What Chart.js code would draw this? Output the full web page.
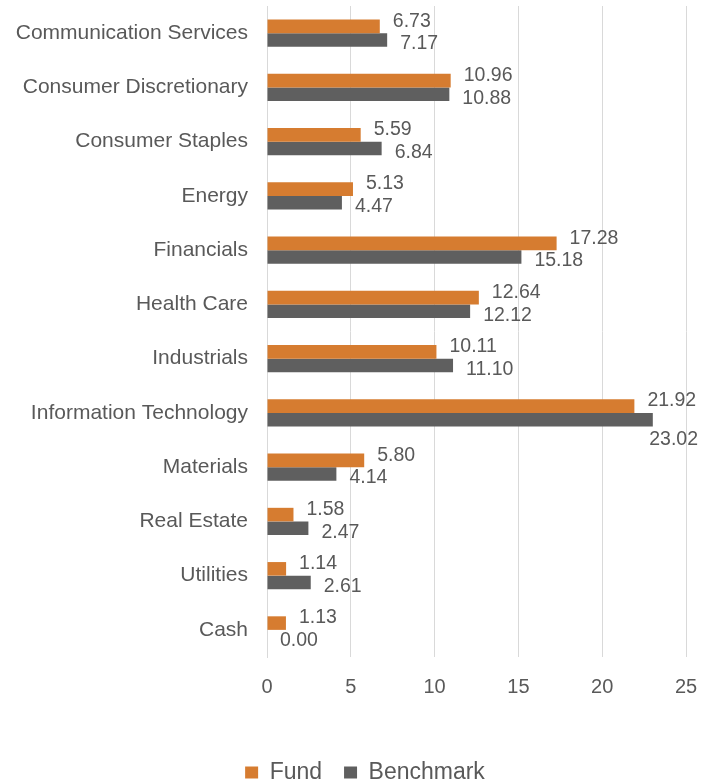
<!DOCTYPE html>
<html>
<head>
<meta charset="utf-8">
<script src="https://cdn.jsdelivr.net/npm/chart.js@4"></script>
<style>
  html, body { margin: 0; padding: 0; background: #fff; }
  #wrap { width: 710px; height: 784px; position: relative; }
</style>
</head>
<body>
<div id="wrap"><canvas id="sectorChart"></canvas></div>
<script>
// Sector weights (%)
const sectors = [
    'Communication Services', 'Consumer Discretionary', 'Consumer Staples', 'Energy',
    'Financials', 'Health Care', 'Industrials', 'Information Technology',
    'Materials', 'Real Estate', 'Utilities', 'Cash'
];
const fundWeights = [6.73, 10.96, 5.59, 5.13, 17.28, 12.64, 10.11, 21.92, 5.80, 1.58, 1.14, 1.13];
const benchmarkWeights = [7.17, 10.88, 6.84, 4.47, 15.18, 12.12, 11.10, 23.02, 4.14, 2.47, 2.61, 0.00];
const xTicks = [0, 5, 10, 15, 20, 25];

const textColor = '#595959';
const fontFamily = "'Liberation Sans', Arial, sans-serif";

// draws the value next to each bar end (pushed below the bar when it would run off the canvas)
const valueLabels = {
    id: 'valueLabels',
    afterDatasetsDraw(chart) {
        const ctx = chart.ctx;
        ctx.save();
        ctx.font = '19.5px ' + fontFamily;
        ctx.fillStyle = textColor;
        ctx.textAlign = 'left';
        ctx.textBaseline = 'middle';
        chart.data.datasets.forEach((ds, i) => {
            const meta = chart.getDatasetMeta(i);
            meta.data.forEach((bar, j) => {
                const txt = ds.data[j].toFixed(2);
                const w = ctx.measureText(txt).width;
                let x = bar.x + 13;
                let dy = i === 0 ? -5 : 4;
                const maxX = chart.width - w - 12;
                if (x > maxX) {
                    x = maxX;
                    dy += 16;
                }
                ctx.fillText(txt, x, bar.y + dy);
            });
        });
        ctx.restore();
    }
};

// nudge the legend a little right, like the original layout
const legendShift = {
    id: 'legendShift',
    beforeDraw(chart) {
        chart.legend.left = 44;
    }
};

document.addEventListener('DOMContentLoaded', function() {
    const ctx = document.getElementById('sectorChart').getContext('2d');
    Chart.defaults.font.family = fontFamily;
    Chart.defaults.color = textColor;

    new Chart(ctx, {
        type: 'bar',
        data: {
            labels: sectors,
            datasets: [
                {
                    label: 'Fund',
                    data: fundWeights,
                    backgroundColor: '#D67C30',
                    categoryPercentage: 0.5,
                    barPercentage: 1.0
                },
                {
                    label: 'Benchmark',
                    data: benchmarkWeights,
                    backgroundColor: '#5F5F5F',
                    categoryPercentage: 0.5,
                    barPercentage: 1.0
                }
            ]
        },
        options: {
            indexAxis: 'y',
            responsive: true,
            maintainAspectRatio: false,
            animation: false,
            layout: {
                padding: { top: 6, right: 24, bottom: -10, left: 0 }
            },
            plugins: {
                legend: {
                    position: 'bottom',
                    labels: {
                        boxWidth: 13,
                        boxHeight: 12,
                        padding: 22,
                        color: textColor,
                        font: { size: 23 }
                    }
                },
                tooltip: { enabled: false }
            },
            scales: {
                x: {
                    min: 0,
                    max: 25,
                    afterBuildTicks: axis => { axis.ticks = xTicks.map(v => ({ value: v })); },
                    afterFit: axis => {
                        axis.height = 82;
                        axis.paddingLeft = 0;
                        axis.paddingRight = 0;
                    },
                    grid: {
                        color: '#D9D9D9',
                        lineWidth: 1,
                        drawTicks: false
                    },
                    border: { display: false },
                    ticks: {
                        color: textColor,
                        padding: 18,
                        font: { size: 20 }
                    }
                },
                y: {
                    afterFit: axis => {
                        axis.width = 267;
                        axis.paddingTop = 0;
                        axis.paddingBottom = 0;
                    },
                    grid: { display: false, drawTicks: false },
                    border: { display: true, color: '#D9D9D9' },
                    ticks: {
                        color: textColor,
                        padding: 19,
                        font: { size: 21 }
                    }
                }
            }
        },
        plugins: [valueLabels, legendShift]
    });
});
</script>
</body>
</html>
